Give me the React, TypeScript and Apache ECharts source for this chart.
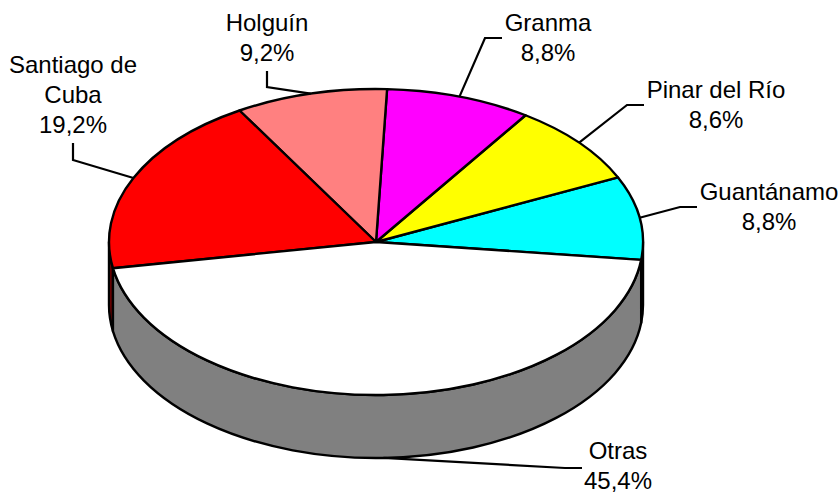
import React, { useEffect, useRef } from "react";
import * as echarts from "echarts";

// Data
const categories = ["Guantánamo", "Pinar del Río", "Granma", "Holguín", "Santiago de\nCuba", "Otras"];
const shares = [8.8, 8.6, 8.8, 9.2, 19.2, 45.4];

// Styles and layout
const topColors = ["#00ffff", "#ffff00", "#ff00ff", "#ff8080", "#ff0000", "#ffffff"];
const wallColors = ["#008080", "#808000", "#800080", "#804040", "#800000", "#808080"];
const CX = 376, CY = 242, RX = 267, RY = 153, DEPTH = 63, START = 6.7;
const FONT = 'Arial, "Liberation Sans", sans-serif';
const FONT_SIZE = 24;
const LINE_STEP = 30;
const leaders: number[][][] = [
  [[680, 207], [697, 207]],
  [[627, 105], [644, 105]],
  [[485, 38], [502, 38]],
  [[267, 87], [267, 71]],
  [[73, 160], [73, 143]],
  [[565, 468], [582, 468]],
];
const labelPos: number[][] = [
  [769, 206], [716, 104], [548, 37], [267, 37], [73, 94], [618, 465],
];

const total = shares.reduce((a, b) => a + b, 0);
const sliceAngles = (i: number) => {
  let before = 0;
  for (let k = 0; k < i; k++) before += shares[k];
  const a0 = START - (before / total) * 360;
  return [a0, a0 - (shares[i] / total) * 360];
};
const pt = (deg: number, dy = 0) => {
  const r = (deg * Math.PI) / 180;
  return [CX + RX * Math.cos(r), CY + RY * Math.sin(r) + dy];
};
const outline = { stroke: "#000", lineWidth: 2.4, lineJoin: "round" };

const renderWall = (params: any, api: any) => {
  const [a0, a1] = sliceAngles(params.dataIndex);
  const children: any[] = [];
  for (const k of [0, 360]) {
    const lo = Math.max(a1 + k, 0);
    const hi = Math.min(a0 + k, 180);
    if (hi > lo) {
      const p = pt(lo), q = pt(hi), q2 = pt(hi, DEPTH), p2 = pt(lo, DEPTH);
      children.push({
        type: "path",
        shape: {
          pathData: `M${p[0]} ${p[1]}A${RX} ${RY} 0 0 1 ${q[0]} ${q[1]}L${q2[0]} ${q2[1]}A${RX} ${RY} 0 0 0 ${p2[0]} ${p2[1]}Z`,
        },
        style: { fill: wallColors[params.dataIndex], ...outline },
      });
    }
  }
  return { type: "group", children };
};

const renderTop = (params: any, api: any) => {
  const i = params.dataIndex;
  const [a0, a1] = sliceAngles(i);
  const p = pt(a0), q = pt(a1);
  const large = a0 - a1 > 180 ? 1 : 0;
  return {
    type: "path",
    shape: {
      pathData: `M${CX} ${CY}L${p[0]} ${p[1]}A${RX} ${RY} 0 ${large} 0 ${q[0]} ${q[1]}Z`,
    },
    style: { fill: topColors[i], ...outline },
  };
};

const renderLabel = (params: any, api: any) => {
  const i = params.dataIndex;
  const [a0, a1] = sliceAngles(i);
  const mid = (a0 + a1) / 2;
  const onWall = i === shares.length - 1;
  const anchor = pt(mid, onWall ? DEPTH : 0);
  const pct = api.value(0).toFixed(1).replace(".", ",");
  const lines = `${categories[i]}\n${pct}%`.split("\n");
  const top = labelPos[i][1] - ((lines.length - 1) * LINE_STEP) / 2;
  return {
    type: "group",
    children: [
      {
        type: "polyline",
        shape: { points: [anchor, ...leaders[i]] },
        style: { fill: "none", stroke: "#000", lineWidth: 2.2 },
      },
      ...lines.map((line, n) => ({
        type: "text",
        x: labelPos[i][0],
        y: top + n * LINE_STEP,
        style: {
          text: line,
          x: 0,
          y: 0,
          align: "center",
          verticalAlign: "middle",
          fontFamily: FONT,
          fontSize: FONT_SIZE,
          lineHeight: 20,
          fill: "#000",
        },
      })),
    ],
  };
};

export default function App() {
  const ref = useRef<HTMLDivElement>(null);
  useEffect(() => {
    const chart = echarts.init(ref.current!, undefined, { renderer: "svg" });
    const data = shares.map((v, i) => ({ name: categories[i], value: [v] }));
    chart.setOption({
      animation: false,
      backgroundColor: "#ffffff",
      series: [
        { type: "custom", coordinateSystem: "none", renderItem: renderWall, data, silent: true, z: 1 },
        { type: "custom", coordinateSystem: "none", renderItem: renderTop, data, silent: true, z: 2 },
        { type: "custom", coordinateSystem: "none", renderItem: renderLabel, data, silent: true, z: 3 },
      ],
    });
    return () => chart.dispose();
  }, []);
  return <div ref={ref} style={{ position: "absolute", left: 0, top: 0, width: 840, height: 493 }} />;
}
